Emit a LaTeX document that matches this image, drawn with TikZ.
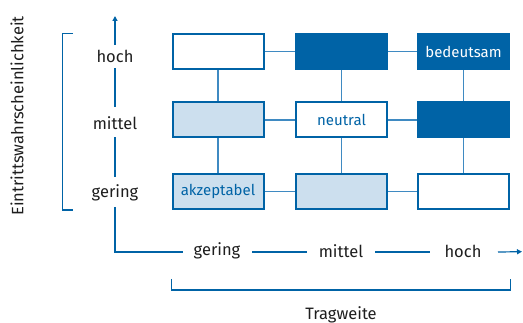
\documentclass[tikz,border=0pt]{standalone}
\usepackage{fontspec}
\setmainfont{Fira Sans}
\usetikzlibrary{arrows.meta}
\definecolor{riskblue}{HTML}{0063A6}
\definecolor{risklight}{HTML}{CCDFEE}
\definecolor{linkblue}{HTML}{3F8AC2}
\definecolor{axistext}{HTML}{1E1E1E}
\tikzset{
  cell/.style={draw=riskblue, line width=2pt, minimum width=91pt, minimum height=35pt,
    inner sep=0pt, font=\fontsize{15}{17}\selectfont},
  lowcell/.style={cell, fill=risklight, text=riskblue},
  midcell/.style={cell, fill=white, text=riskblue},
  highcell/.style={cell, fill=riskblue, text=white},
  link/.style={draw=linkblue, line width=1.2pt},
  axis/.style={draw=riskblue, line width=1.2pt},
  axislabel/.style={text=axistext, font=\fontsize{16.5}{18}\selectfont, inner sep=0pt},
}
\begin{document}
\begin{tikzpicture}[x=1pt,y=-1pt]
\useasboundingbox (0,0) rectangle (523,323);

% risk matrix cells
\node[midcell]  (c13) at (218,51.7) {};
\node[highcell] (c23) at (341.5,51.7) {};
\node[highcell] (c33) at (463.5,51.7) {bedeutsam};
\node[lowcell]  (c12) at (218,120) {};
\node[midcell]  (c22) at (341.5,120) {neutral};
\node[highcell] (c32) at (463.5,120) {};
\node[lowcell]  (c11) at (218,191.7) {akzeptabel};
\node[lowcell]  (c21) at (341.5,191.7) {};
\node[midcell]  (c31) at (463.5,191.7) {};

% grid links
\foreach \r in {1,2,3}{
  \path[link] (c1\r.east) -- (c2\r.west);
  \path[link] (c2\r.east) -- (c3\r.west);
}
\foreach \c in {1,2,3}{
  \path[link] (c\c3.south) -- (c\c2.north);
  \path[link] (c\c2.south) -- (c\c1.north);
}

% probability axis
\node[axislabel] (yh) at (115,56) {hoch};
\node[axislabel] (ym) at (115,123.5) {mittel};
\node[axislabel] (yl) at (115,192.5) {gering};
\coordinate (ytip) at (115,16);
\coordinate (origin) at (115,252);

% impact axis
\node[axislabel] (xl) at (217,251) {gering};
\node[axislabel] (xm) at (341,251) {mittel};
\node[axislabel] (xh) at (463,251) {hoch};
\coordinate (xtip) at (522,251.7);

\path[axis] (115,207) coordinate (yls) -- (origin) -- (183,252) coordinate (xls);
\path[axis] (252,252) coordinate (a1) -- (307,252) coordinate (a2);
\path[axis] (375,252) coordinate (b1) -- (430,252) coordinate (b2);
\path[axis,-{Triangle[length=5pt,width=5pt]}] (498,252) coordinate (d1) -- (xtip);
\path[axis] (115,177) coordinate (e1) -- (115,137) coordinate (e2);
\path[axis] (115,107) coordinate (f1) -- (115,68) coordinate (f2);
\path[axis,-{Triangle[length=5pt,width=5pt]}] (115,45) coordinate (g1) -- (ytip);

% brackets
\path[axis] (73,33.5) coordinate (lb1) -- (62.5,33.5) -- (62.5,210) -- (73,210) coordinate (lb2);
\path[axis] (171.5,279) coordinate (bb1) -- (171.5,290) -- (510.5,290) -- (510.5,279) coordinate (bb2);

% axis titles
\node[axislabel, rotate=90] (ytitle) at (17,116) {Eintrittswahrscheinlichkeit};
\node[axislabel, anchor=base] (xtitle) at (341,320) {Tragweite};
\end{tikzpicture}
\end{document}
